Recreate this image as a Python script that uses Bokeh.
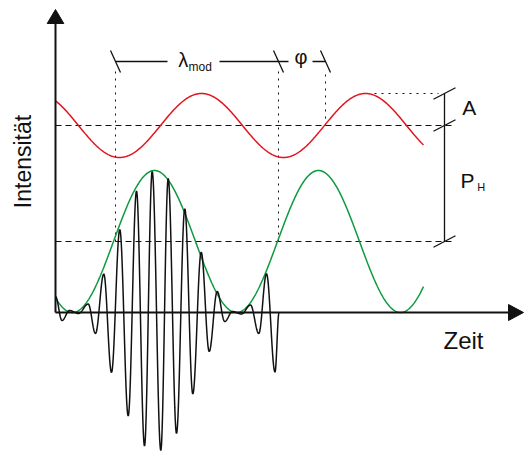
import numpy as np
from bokeh.plotting import figure
from bokeh.models import Range1d
from bokeh.core.properties import value
from bokeh.embed import file_html
from bokeh.resources import INLINE

# ---- data (time offset from y-axis, intensity above time axis; arbitrary units) ----
# modulated (red) signal: mean, amplitude, period, time of a maximum, visible span
red_mean, red_amp, red_period, red_peak_t = 187, 32, 164, 146
red_span = [0, 368]
# envelope (green) signal
green_mean, green_amp, green_period, green_peak_t = 71, 71, 164, 99
green_span = [0, 368]
# black interferogram: successive extrema
wave_t = [0, 6.5, 14, 23, 32.7, 40, 48.3, 56, 64.3, 72.7, 81, 89, 96.7, 105.3,
          112.7, 121, 129.3, 137.3, 145.7, 153.7, 161.7, 169.2, 177, 186, 195,
          203.3, 211, 219.5, 223.5]
wave_i = [16, -8, 2, -1, 8.5, -21, 38.5, -60, 83, -103.5, 121.5, -133.5, 141, -138,
          134, -121, 103.7, -81.5, 60.3, -39, 21, -9, 1, -1.5, 7.5, -21, 38.7, -59.5,
          -0.5]
# reference levels and markers
level_red, level_green, level_top = 187, 71, 219
lambda_start, lambda_end, phi_end = 60, 223, 270
bracket_t = 389
label_y = 251

AX_T_MAX, AX_I_MAX = 468, 303

def smooth_through(ts, vs, n=24):
    xs, ys = [], []
    for i in range(len(ts) - 1):
        u = np.linspace(0, 1, n, endpoint=False)
        w = (1 - np.cos(np.pi * u)) / 2
        xs.extend(ts[i] + (ts[i + 1] - ts[i]) * u)
        ys.extend(vs[i] + (vs[i + 1] - vs[i]) * w)
    xs.append(ts[-1]); ys.append(vs[-1])
    return xs, ys

p = figure(width=530, height=451, x_range=Range1d(-55, 475), y_range=Range1d(-139, 312),
           output_backend="svg", toolbar_location=None,
           x_axis_location=None, y_axis_location=None,
           min_border=0, min_border_left=0, min_border_right=0,
           min_border_top=0, min_border_bottom=0)
p.grid.visible = False
p.outline_line_color = None
p.background_fill_color = "white"

FONT = value("Liberation Sans")
RED = "#e0141e"
GREEN = "#0d9a3e"
INK = "#111111"

# dashed reference levels
p.line([0, 400], [level_red, level_red], line_color=INK, line_width=1, line_dash="6 4")
p.line([0, 397], [level_green, level_green], line_color=INK, line_width=1, line_dash="6 4")
# dotted guides
for t0, y0 in [(lambda_start, level_green), (lambda_end, level_green)]:
    p.line([t0, t0], [y0, 242], line_color=INK, line_width=1, line_dash="2 5")
p.line([phi_end, phi_end], [level_red, 240], line_color=INK, line_width=1, line_dash="2 5")
p.line([312, 383], [level_top, level_top], line_color=INK, line_width=1, line_dash="2 5")

# curves
tr = np.linspace(red_span[0], red_span[1], 600)
p.line(tr, red_mean + red_amp * np.cos(2 * np.pi * (tr - red_peak_t) / red_period),
       line_color=RED, line_width=1.5)
tg = np.linspace(green_span[0], green_span[1], 600)
p.line(tg, green_mean + green_amp * np.cos(2 * np.pi * (tg - green_peak_t) / green_period),
       line_color=GREEN, line_width=1.5)
wx, wy = smooth_through(wave_t, wave_i)
p.line(wx, wy, line_color=INK, line_width=1.5)

# axes with arrow heads
p.line([0, AX_T_MAX - 15], [0, 0], line_color=INK, line_width=2)
p.line([0, 0], [0, AX_I_MAX - 14], line_color=INK, line_width=2)
p.patch([AX_T_MAX - 15, AX_T_MAX, AX_T_MAX - 15], [8, 0, -8], color=INK)
p.patch([-8.3, 0, 8.3], [AX_I_MAX - 14, AX_I_MAX, AX_I_MAX - 14], color=INK)

# lambda / phi bracket
p.line([lambda_start, 112], [label_y, label_y], line_color=INK, line_width=1.3)
p.line([164, 233], [label_y, label_y], line_color=INK, line_width=1.3)
p.line([257, phi_end], [label_y, label_y], line_color=INK, line_width=1.3)
for t0 in [lambda_start, lambda_end, phi_end]:
    p.line([t0 - 5, t0 + 5], [label_y + 11, label_y - 11], line_color=INK, line_width=1.3)

# A / P_H bracket
p.line([bracket_t, bracket_t], [level_top, level_green], line_color=INK, line_width=1.3)
for y0 in [level_top, level_red, level_green]:
    p.line([bracket_t - 11, bracket_t + 11], [y0 - 5.8, y0 + 5.8], line_color=INK, line_width=1.3)

def label(x, y, txt, size, rotated=False, **kw):
    # compensate the renderer's baseline offset (about 0.4 em)
    shift = 0.4 * size
    if rotated:
        x, kw["angle"] = x - shift, np.pi / 2
    else:
        y = y + shift
    p.text(x=[x], y=[y], text=[txt], text_font=FONT, text_font_size=f"{size}px",
           text_color=INK, text_baseline="alphabetic", **kw)

label(122.7, 244.3, "λ", 20)
label(133, 241, "mod", 12)
label(239, 247.7, "φ", 20)
label(406.7, 197, "A", 21)
label(405, 124, "P", 21)
label(421.7, 121, "H", 11)
label(388, -38, "Zeit", 24)
label(-23, 151, "Intensität", 23, rotated=True, text_align="center")

open("out.html", "w").write(file_html(p, INLINE))
